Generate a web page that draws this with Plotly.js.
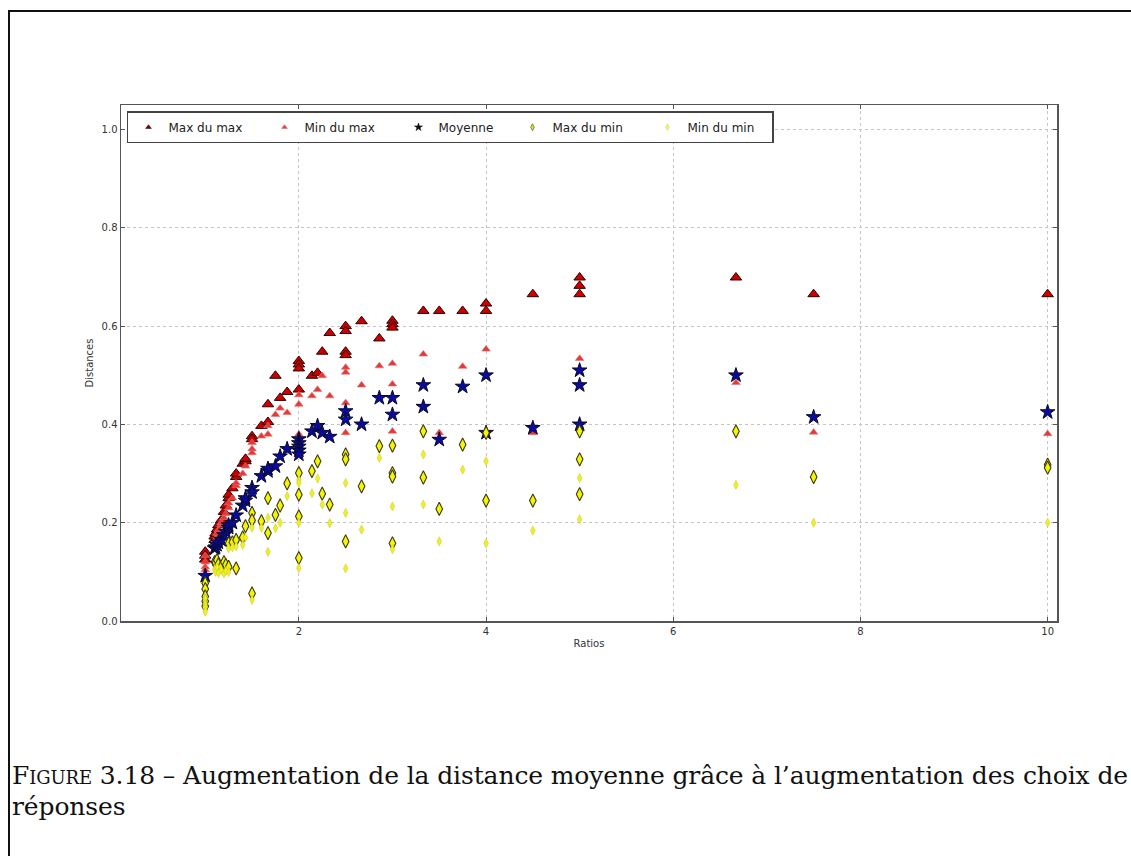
<!DOCTYPE html>
<html><head><meta charset="utf-8">
<script src="https://cdn.plot.ly/plotly-3.0.1.min.js"></script>
<style>
html,body{margin:0;padding:0;overflow:hidden;background:#fff;width:1131px;height:856px}
#chart{position:absolute;left:0;top:0;width:1131px;height:856px}
#frame{position:absolute;left:8px;top:10px;width:1140px;height:860px;border-top:2px solid #111;border-left:2px solid #111;pointer-events:none}
#caption{position:absolute;left:12px;top:760px;font-family:'DejaVu Serif',serif;font-size:25px;line-height:31px;white-space:nowrap;color:#111}
#caption div{height:31px;line-height:31px}
.sc{font-variant:small-caps}
</style></head>
<body>
<div id="chart"></div>
<div id="frame"></div>
<div id="caption"><div><span id="line1"><span class="sc">Figure</span> 3.18 – Augmentation de la distance moyenne grâce à l’augmentation des choix de</span></div><div>réponses</div></div>
<script>
// ---- data ----
const seriesNames = ['Max du max', 'Min du max', 'Moyenne', 'Max du min', 'Min du min'];

const maxMaxX = [1,1,1, 1.1,1.1, 1.11, 1.125, 1.14, 1.17, 1.2, 1.22, 1.25,1.25, 1.29, 1.33,1.33, 1.4, 1.43,1.43, 1.5,1.5, 1.6, 1.67,1.67, 1.75, 1.8, 1.875, 2,2,2,2, 2.14, 2.2, 2.25, 2.33, 2.5,2.5,2.5,2.5, 2.67, 2.86, 3,3,3, 3.33, 3.5, 3.75, 4,4, 4.5, 5,5,5, 6.67, 7.5, 10];
const maxMaxY = [0.141,0.133,0.125, 0.165,0.172, 0.178, 0.186, 0.195, 0.205, 0.222, 0.235, 0.25,0.257, 0.27, 0.293,0.30, 0.32, 0.325,0.33, 0.376,0.37, 0.397, 0.441,0.405, 0.499, 0.454, 0.466, 0.529,0.522,0.514,0.471, 0.499, 0.505, 0.548, 0.586, 0.600,0.590,0.548,0.541, 0.610, 0.575, 0.611,0.604,0.597, 0.631, 0.631, 0.631, 0.646,0.631, 0.665, 0.699,0.682,0.665, 0.699, 0.665, 0.665];

const minMaxX = [1,1,1,1, 1.1, 1.11, 1.125,1.125, 1.14, 1.17,1.17, 1.2, 1.22, 1.25,1.25, 1.29, 1.33,1.33, 1.4, 1.43, 1.5,1.5,1.5, 1.6, 1.67,1.67, 1.75, 1.8, 1.875, 2,2,2, 2.14, 2.2, 2.25, 2.33, 2.5,2.5,2.5,2.5, 2.67, 2.86, 3,3,3, 3.33, 3.5, 3.75, 4,4, 4.5, 5,5, 6.67, 7.5, 10];
const minMaxY = [0.133,0.12,0.11,0.104, 0.16, 0.165, 0.17,0.178, 0.185, 0.195,0.2, 0.21, 0.218, 0.23,0.24, 0.25, 0.275,0.281, 0.3, 0.315, 0.363,0.35,0.342, 0.376, 0.38,0.397, 0.42, 0.433, 0.424, 0.46,0.441,0.38, 0.458, 0.471, 0.499, 0.458, 0.516,0.506,0.444,0.383, 0.48, 0.519, 0.524,0.482,0.386, 0.543, 0.383, 0.518, 0.553,0.385, 0.383, 0.534,0.482, 0.485, 0.384, 0.381];

const moyX = [1, 1.1, 1.11, 1.125, 1.14, 1.17, 1.2, 1.22, 1.25,1.25, 1.29, 1.33, 1.4, 1.43,1.43, 1.5,1.5, 1.6, 1.67,1.67, 1.75, 1.8, 1.875, 2,2,2,2,2, 2.14, 2.2, 2.25, 2.33, 2.5,2.5, 2.67, 2.86, 3,3, 3.33,3.33, 3.5, 3.75, 4,4, 4.5, 5,5,5, 6.67, 7.5, 10];
const moyY = [0.092, 0.148, 0.15, 0.155, 0.16, 0.165, 0.175, 0.182, 0.19,0.195, 0.2, 0.215, 0.235, 0.245,0.25, 0.271,0.262, 0.295, 0.305,0.31, 0.315, 0.335, 0.35, 0.37,0.362,0.355,0.347,0.339, 0.386, 0.397, 0.383, 0.375, 0.427,0.41, 0.40, 0.454, 0.454,0.42, 0.48,0.436, 0.369, 0.477, 0.50,0.383, 0.393, 0.51,0.48,0.40, 0.50, 0.415, 0.425];

const maxMinX = [1,1,1,1,1, 1.1, 1.11, 1.125, 1.14, 1.17, 1.2, 1.22, 1.25,1.25, 1.29, 1.33,1.33, 1.4, 1.43, 1.5,1.5,1.5, 1.6, 1.67,1.67, 1.75, 1.8, 1.875, 2,2,2,2, 2.14, 2.2, 2.25, 2.33, 2.5,2.5,2.5, 2.67, 2.86, 3,3,3,3, 3.33,3.33, 3.5, 3.75, 4,4, 4.5, 5,5,5, 6.67, 7.5, 10,10];
const maxMinY = [0.077,0.065,0.05,0.04,0.03, 0.12, 0.118, 0.124, 0.115, 0.11, 0.12, 0.114, 0.11,0.158, 0.16, 0.107,0.165, 0.17, 0.193, 0.22,0.205,0.056, 0.203, 0.25,0.179, 0.216, 0.235, 0.28, 0.301,0.257,0.213,0.128, 0.305, 0.325, 0.259, 0.237, 0.339,0.329,0.162, 0.274, 0.356, 0.357,0.301,0.294,0.158, 0.386,0.292, 0.228, 0.359, 0.383,0.245, 0.245, 0.386,0.329,0.258, 0.386, 0.293, 0.318,0.312];

const minMinX = [1,1,1,1, 1.1, 1.11, 1.125, 1.14, 1.17, 1.2, 1.22, 1.25,1.25, 1.29, 1.33, 1.4, 1.43, 1.5,1.5, 1.6, 1.67,1.67, 1.75, 1.8, 1.875, 2,2,2,2, 2.14, 2.2, 2.25, 2.33, 2.5,2.5,2.5, 2.67, 2.86, 3,3, 3.33,3.33, 3.5, 3.75, 4,4, 4.5, 5,5, 6.67, 7.5, 10];
const minMinY = [0.046,0.035,0.027,0.019, 0.105, 0.1, 0.11, 0.098, 0.104, 0.097, 0.102, 0.1,0.148, 0.15, 0.152, 0.155, 0.17, 0.19,0.043, 0.19, 0.141,0.21, 0.189, 0.2, 0.254, 0.287,0.281,0.2,0.108, 0.26, 0.29, 0.237, 0.199, 0.281,0.22,0.107, 0.186, 0.332, 0.233,0.146, 0.339,0.237, 0.162, 0.308, 0.325,0.158, 0.184, 0.291,0.207, 0.277, 0.2, 0.2];

const xTickVals = [2, 4, 6, 8, 10];
const yTickVals = [0.0, 0.2, 0.4, 0.6, 0.8, 1.0];
const xTitle = 'Ratios';
const yTitle = 'Distances';

// ---- styles ----
const styles = [
  {symbol:'triangle-up', size:10, color:'#cc0000', line:{color:'#2a0000', width:1}, lsize:5, lcolor:'#7a0000', lline:{color:'#220000',width:0.5}, lw:91},
  {symbol:'triangle-up', size:7.5, color:'#e23a3a', line:{color:'#e57070', width:0.6}, lsize:5, lcolor:'#e04040', lline:{color:'#e06060',width:0.5}, lw:89},
  {symbol:'star', size:11, color:'#0a0aa0', line:{color:'#0a0a20', width:1}, lsize:6, lcolor:'#111', lline:{color:'#000',width:0.5}, lw:69},
  {symbol:'diamond-tall', size:9.5, color:'#f5f500', line:{color:'#3a3a10', width:1.1}, lsize:5, lcolor:'#e8e800', lline:{color:'#555',width:0.7}, lw:90},
  {symbol:'diamond-tall', size:6.5, color:'#f0f020', line:{color:'#cfcf30', width:0.6}, lsize:5, lcolor:'#f0f070', lline:{color:'#d8d860',width:0.5}, lw:80}
];
const xs = [maxMaxX, minMaxX, moyX, maxMinX, minMinX];
const ys = [maxMaxY, minMaxY, moyY, maxMinY, minMinY];

const traces = [];
for (let i = 0; i < 5; i++) {
  const s = styles[i];
  traces.push({
    type:'scatter', mode:'markers', x: xs[i], y: ys[i], name: seriesNames[i],
    showlegend:false, hoverinfo:'x+y',
    marker:{symbol:s.symbol, size:s.size, color:s.color, line:s.line}
  });
}
// legend-only entries (tiny markers, as in the original legend)
for (let i = 0; i < 5; i++) {
  const s = styles[i];
  traces.push({
    type:'scatter', mode:'markers', x:[null], y:[null], name: seriesNames[i],
    showlegend:true, legendwidth: s.lw,
    marker:{symbol:s.symbol, size:s.lsize, color:s.lcolor, line:s.lline}
  });
}

const axisCommon = {
  showline:true, linecolor:'#555', linewidth:1.5, mirror:'ticks',
  ticks:'inside', ticklen:4, tickwidth:1, tickcolor:'#555',
  showgrid:true, gridcolor:'#c4c4c4', gridwidth:1, griddash:'dot',
  zeroline:false,
  tickfont:{family:'DejaVu Sans', size:10, color:'#333'}
};

const layout = {
  width:1131, height:856,
  margin:{l:121, r:74, t:105, b:235, pad:0},
  paper_bgcolor:'rgba(0,0,0,0)', plot_bgcolor:'#fff',
  font:{family:'DejaVu Sans', color:'#333'},
  xaxis: Object.assign({}, axisCommon, {
    range:[0.1, 10.1], tickvals:xTickVals, ticktext:xTickVals.map(String),
    title:{text:xTitle, font:{family:'DejaVu Sans', size:10, color:'#333'}, standoff:4}
  }),
  yaxis: Object.assign({}, axisCommon, {
    range:[0, 1.05], tickvals:yTickVals, ticktext:yTickVals.map(v => v.toFixed(1)),
    title:{text:yTitle, font:{family:'DejaVu Sans', size:10, color:'#333'}, standoff:6}
  }),
  showlegend:true,
  legend:{
    orientation:'h', x:0.0064, y:0.988, xanchor:'left', yanchor:'top',
    bgcolor:'#fff', bordercolor:'#444', borderwidth:1.5,
    font:{family:'DejaVu Sans', size:12, color:'#222'},
    itemsizing:'trace', tracegroupgap:0
  }
};

Plotly.newPlot('chart', traces, layout, {displayModeBar:false, staticPlot:true}).then(function(){
  // fit the caption's first line to the reference width
  const l1 = document.getElementById('line1');
  const cap = document.getElementById('caption');
  const target = 1116;
  const w = l1.getBoundingClientRect().width;
  const n = l1.textContent.length;
  if (w > 0 && n > 0) {
    const ls = Math.max(-1.5, Math.min(2, (target - w) / n));
    cap.style.letterSpacing = ls.toFixed(3) + 'px';
  }
});
</script>
</body></html>
